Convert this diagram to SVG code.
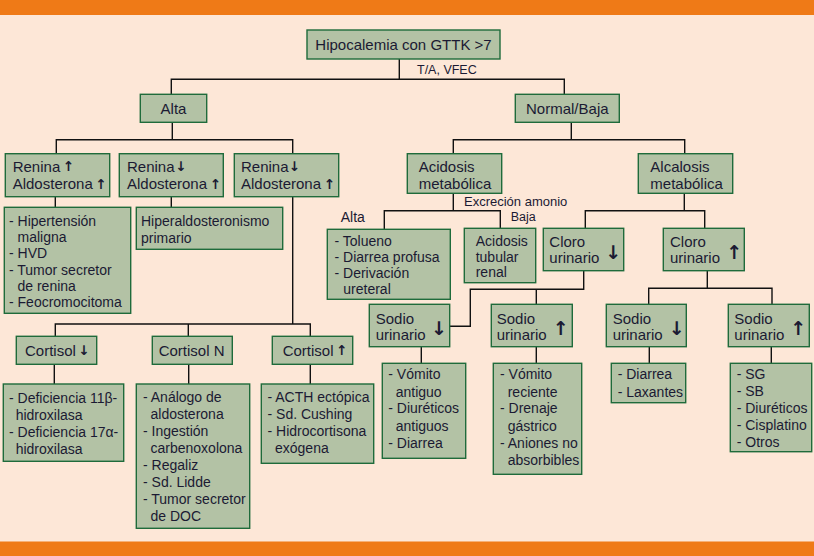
<svg xmlns="http://www.w3.org/2000/svg" width="814" height="556" viewBox="0 0 814 556">
<style>
.bg{fill:#FDE7D7}
.band{fill:#EF7A17}
.box{fill:#B3C2A5;stroke:#1F6B3B;stroke-width:1.4}
.c{fill:none;stroke:#111;stroke-width:1.4}
text{font-family:"Liberation Sans",Arial,sans-serif;fill:#1B1A33}
.t15{font-size:15px}
.t14{font-size:14px}
.lbl{font-size:12.5px}
.ar{font-family:"DejaVu Sans",sans-serif;font-weight:bold;text-anchor:middle}
.as{font-size:13.5px}
.ab{font-size:19px}
.mid{text-anchor:middle}
</style>
<rect class="bg" x="0" y="0" width="814" height="556"/>
<rect class="band" x="0" y="0" width="814" height="15"/>
<rect class="band" x="0" y="541.5" width="814" height="14.5"/>

<g id="connectors">
<path class="c" d="M399.3 59V79.3M171.3 94V79.3H564.3V94"/>
<path class="c" d="M172.3 122V139.7M56.3 153.7V139.7H292.7V153.7"/>
<path class="c" d="M571.3 122V139.7M453.3 153.7V139.7H684.7V153.7"/>
<path class="c" d="M55.3 196.7V207.3M171.3 196.7V207.3"/>
<path class="c" d="M292.7 196.7V324M55.3 336.3V324H310.3V336.3M188.3 324V336.3"/>
<path class="c" d="M54.3 364.3V384M188.7 364.3V384M310.3 364.3V384"/>
<path class="c" d="M453.3 193.3V210.7M384.3 229.3V210.7H500.3V228.3"/>
<path class="c" d="M684.3 193.3V210.7M585.3 228.3V210.7H704.7V228.3"/>
<path class="c" d="M583.7 270.7V289.3H470.3V326.3H449.7M536.3 289.3V304.3"/>
<path class="c" d="M707.3 270.7V288.3M648.7 304.3V288.3H772V304.3"/>
<path class="c" d="M421.3 346.7V363.3M536.3 346.7V363.3M649.3 346.7V363.3M771.3 346.7V363.3"/>
</g>

<text class="lbl" x="417" y="73.5">T/A, VFEC</text>
<text class="lbl" x="464" y="206" style="font-size:13px">Excreción amonio</text>
<text class="lbl" x="510.7" y="220.5">Baja</text>
<text class="t14" x="340.7" y="222">Alta</text>

<g id="root">
<rect class="box" x="307" y="30" width="193" height="29"/>
<text class="t15 mid" x="403.5" y="49.5">Hipocalemia con GTTK &gt;7</text>
</g>
<g id="alta">
<rect class="box" x="140.3" y="94.3" width="66.4" height="28"/>
<text class="t15 mid" x="173.5" y="113.5">Alta</text>
</g>
<g id="normal">
<rect class="box" x="515.3" y="94.3" width="104" height="28"/>
<text class="t15 mid" x="567.3" y="113.5">Normal/Baja</text>
</g>

<g id="renina1">
<rect class="box" x="5.3" y="153.7" width="104.4" height="43"/>
<text class="t15" x="12.7" y="171.5">Renina</text>
<text class="ar as" x="68.3" y="171">↑</text>
<text class="t15" x="12.7" y="189.2">Aldosterona</text>
<text class="ar as" x="101" y="189">↑</text>
</g>
<g id="renina2">
<rect class="box" x="119.3" y="153.7" width="104" height="43"/>
<text class="t15" x="127" y="171.5">Renina</text>
<text class="ar as" x="181" y="171">↓</text>
<text class="t15" x="127" y="189.2">Aldosterona</text>
<text class="ar as" x="215.3" y="189">↑</text>
</g>
<g id="renina3">
<rect class="box" x="234.3" y="153.7" width="104.4" height="43"/>
<text class="t15" x="241" y="171.5">Renina</text>
<text class="ar as" x="294.3" y="171">↓</text>
<text class="t15" x="241" y="189.2">Aldosterona</text>
<text class="ar as" x="329.3" y="189">↑</text>
</g>

<g id="lista-renina1">
<rect class="box" x="4.3" y="207.3" width="126.4" height="106"/>
<text class="t14" x="9" y="226">- Hipertensión</text>
<text class="t14" x="17.5" y="242.2">maligna</text>
<text class="t14" x="9" y="258.4">- HVD</text>
<text class="t14" x="9" y="274.6">- Tumor secretor</text>
<text class="t14" x="17.5" y="290.8">de renina</text>
<text class="t14" x="9" y="307">- Feocromocitoma</text>
</g>
<g id="hiperaldo">
<rect class="box" x="136.3" y="207.3" width="146.4" height="42"/>
<text class="t14" x="141" y="226">Hiperaldosteronismo</text>
<text class="t14" x="141" y="243">primario</text>
</g>

<g id="cortisol-baja">
<rect class="box" x="16.3" y="336.3" width="80.4" height="28"/>
<text class="t15" x="25" y="355.5">Cortisol</text>
<text class="ar as" x="84" y="355">↓</text>
</g>
<g id="cortisol-n">
<rect class="box" x="152.3" y="336.3" width="80" height="28"/>
<text class="t15" x="158.7" y="355.5">Cortisol N</text>
</g>
<g id="cortisol-alta">
<rect class="box" x="272.3" y="336.3" width="80.4" height="28"/>
<text class="t15" x="282.7" y="355.5">Cortisol</text>
<text class="ar as" x="341.7" y="355">↑</text>
</g>

<g id="lista-deficiencia">
<rect class="box" x="3.3" y="384" width="120.4" height="77.3"/>
<text class="t14" x="9" y="403.3">- Deficiencia 11β-</text>
<text class="t14" x="15.7" y="420.2">hidroxilasa</text>
<text class="t14" x="9" y="437.1">- Deficiencia 17α-</text>
<text class="t14" x="15.7" y="454">hidroxilasa</text>
</g>
<g id="lista-analogo">
<rect class="box" x="136.3" y="384" width="113.4" height="144.3"/>
<text class="t14" x="143" y="402.3">- Análogo de</text>
<text class="t14" x="150.5" y="419.3">aldosterona</text>
<text class="t14" x="143" y="436.3">- Ingestión</text>
<text class="t14" x="150.5" y="453.3">carbenoxolona</text>
<text class="t14" x="143" y="470.3">- Regaliz</text>
<text class="t14" x="143" y="487.3">- Sd. Lidde</text>
<text class="t14" x="143" y="504.3">- Tumor secretor</text>
<text class="t14" x="150.5" y="521.3">de DOC</text>
</g>
<g id="lista-acth">
<rect class="box" x="261.3" y="384" width="112.4" height="79.3"/>
<text class="t14" x="267.5" y="402.3">- ACTH ectópica</text>
<text class="t14" x="267.5" y="419.3">- Sd. Cushing</text>
<text class="t14" x="267.5" y="436.3">- Hidrocortisona</text>
<text class="t14" x="275" y="453.3">exógena</text>
</g>

<g id="acidosis">
<rect class="box" x="407.3" y="153.7" width="94.4" height="39.6"/>
<text class="t15" x="418.7" y="171.5">Acidosis</text>
<text class="t15" x="418.7" y="189">metabólica</text>
</g>
<g id="alcalosis">
<rect class="box" x="638.3" y="153.7" width="94.4" height="39.6"/>
<text class="t15" x="650.3" y="171.5">Alcalosis</text>
<text class="t15" x="650.3" y="189">metabólica</text>
</g>

<g id="lista-tolueno">
<rect class="box" x="327.3" y="229.3" width="123" height="70"/>
<text class="t14" x="334.5" y="246">- Tolueno</text>
<text class="t14" x="334.5" y="262">- Diarrea profusa</text>
<text class="t14" x="334.5" y="278">- Derivación</text>
<text class="t14" x="343.3" y="294">ureteral</text>
</g>
<g id="acidosis-tubular">
<rect class="box" x="464.3" y="228.3" width="71.4" height="54.4"/>
<text class="t14" x="475.7" y="246.2">Acidosis</text>
<text class="t14" x="475.7" y="261.8">tubular</text>
<text class="t14" x="475.7" y="277.4">renal</text>
</g>

<g id="cloro-bajo">
<rect class="box" x="543.3" y="228.3" width="80.4" height="42.4"/>
<text class="t15" x="549.3" y="246.5">Cloro</text>
<text class="t15" x="549.3" y="263">urinario</text>
<text class="ar ab" x="613.3" y="259">↓</text>
</g>
<g id="cloro-alto">
<rect class="box" x="663.3" y="228.3" width="81" height="42.4"/>
<text class="t15" x="670" y="246.5">Cloro</text>
<text class="t15" x="670" y="263">urinario</text>
<text class="ar ab" x="734.3" y="259">↑</text>
</g>

<g id="sodio-bajo-1">
<rect class="box" x="369.3" y="304.3" width="80.4" height="42.4"/>
<text class="t15" x="375.7" y="323.5">Sodio</text>
<text class="t15" x="375.7" y="340">urinario</text>
<text class="ar ab" x="439" y="335">↓</text>
</g>
<g id="sodio-alto-1">
<rect class="box" x="491.3" y="304.3" width="81" height="42.4"/>
<text class="t15" x="496.7" y="323.5">Sodio</text>
<text class="t15" x="496.7" y="340">urinario</text>
<text class="ar ab" x="560.7" y="335">↑</text>
</g>
<g id="sodio-bajo-2">
<rect class="box" x="606.3" y="304.3" width="80" height="42.4"/>
<text class="t15" x="612.7" y="323.5">Sodio</text>
<text class="t15" x="612.7" y="340">urinario</text>
<text class="ar ab" x="676.7" y="335">↓</text>
</g>
<g id="sodio-alto-2">
<rect class="box" x="728.3" y="304.3" width="81" height="42.4"/>
<text class="t15" x="734.3" y="323.5">Sodio</text>
<text class="t15" x="734.3" y="340">urinario</text>
<text class="ar ab" x="798.3" y="335">↑</text>
</g>

<g id="lista-vomito-antiguo">
<rect class="box" x="382.3" y="363.3" width="83.4" height="95"/>
<text class="t14" x="388.3" y="379.3">- Vómito</text>
<text class="t14" x="395.7" y="396.5">antiguo</text>
<text class="t14" x="388.3" y="413.3">- Diuréticos</text>
<text class="t14" x="395.7" y="430.5">antiguos</text>
<text class="t14" x="388.3" y="447.5">- Diarrea</text>
</g>
<g id="lista-vomito-reciente">
<rect class="box" x="493.3" y="363.3" width="88.4" height="111"/>
<text class="t14" x="500" y="379.3">- Vómito</text>
<text class="t14" x="507.7" y="396.5">reciente</text>
<text class="t14" x="500" y="413.3">- Drenaje</text>
<text class="t14" x="507.7" y="430.5">gástrico</text>
<text class="t14" x="500" y="447.5">- Aniones no</text>
<text class="t14" x="507.7" y="465">absorbibles</text>
</g>
<g id="lista-diarrea">
<rect class="box" x="611.3" y="363.3" width="74.4" height="39.4"/>
<text class="t14" x="617.7" y="379.3">- Diarrea</text>
<text class="t14" x="617.7" y="396.5">- Laxantes</text>
</g>
<g id="lista-sg">
<rect class="box" x="730.3" y="363.3" width="81.4" height="88.4"/>
<text class="t14" x="736.7" y="379.3">- SG</text>
<text class="t14" x="736.7" y="396.3">- SB</text>
<text class="t14" x="736.7" y="413.3">- Diuréticos</text>
<text class="t14" x="736.7" y="430.3">- Cisplatino</text>
<text class="t14" x="736.7" y="447.3">- Otros</text>
</g>
</svg>
